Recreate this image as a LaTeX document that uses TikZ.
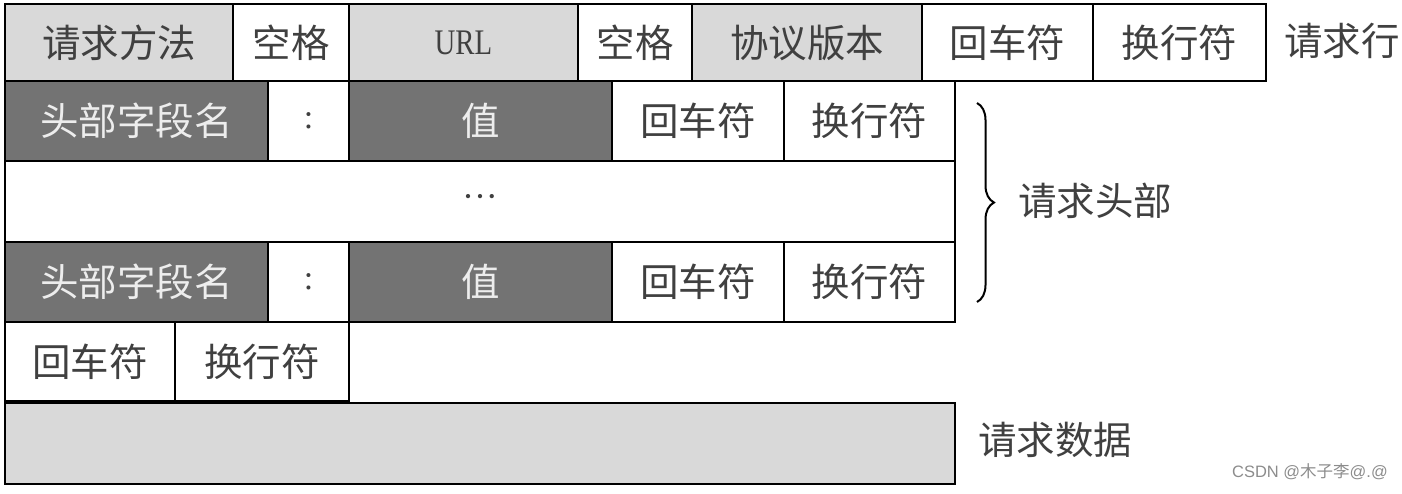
\documentclass[tikz,border=0pt]{standalone}
\usepackage{fontspec}
\newfontfamily\cjk{Noto Sans CJK SC}
\newfontfamily\lat{Liberation Serif}
\newfontfamily\wm{Liberation Sans}
\usetikzlibrary{decorations.pathreplacing}
\definecolor{lgray}{HTML}{D9D9D9}
\definecolor{dgray}{HTML}{737373}
\definecolor{txt}{HTML}{404040}
\tikzset{
  cell/.style={draw=black, line width=2.2pt, inner sep=0pt, outer sep=0pt,
    font=\cjk\fontsize{38.5}{42}\selectfont, text=txt},
  light/.style={cell, fill=lgray},
  white/.style={cell, fill=white},
  dark/.style={cell, fill=dgray, text=white!93!black},
  label/.style={font=\cjk\fontsize{38.5}{42}\selectfont, text=txt, inner sep=0pt},
}
\newcommand{\cellbox}[7]{%
  \node[#6, minimum width={#4-#2}, minimum height={#5-#3}] (#1) at ({(#2+#4)/2},{(#3+#5)/2}) {#7};}
\begin{document}
\begin{tikzpicture}[x=1pt,y=-1pt]
\useasboundingbox (0,0) rectangle (1402,493);
% row 1: request line
\cellbox{method}{5}{4}{233}{81}{light}{请求方法}
\cellbox{sp1}{233}{4}{349}{81}{white}{空格}
\cellbox{url}{349}{4}{578}{81}{light}{\lat\fontsize{36}{40}\selectfont\scalebox{0.8}[1]{URL}}
\cellbox{sp2}{578}{4}{692}{81}{white}{空格}
\cellbox{ver}{692}{4}{922}{81}{light}{协议版本}
\cellbox{cr1}{922}{4}{1093}{81}{white}{回车符}
\cellbox{lf1}{1093}{4}{1266}{81}{white}{换行符}
\node[label, anchor=west] (reqline) at (1284,41) {请求行};
% row 2: header
\cellbox{hname1}{5}{81}{268}{161}{dark}{头部字段名}
\cellbox{colon1}{268}{81}{349}{161}{white}{\lat\fontsize{34}{38}\selectfont :}
\cellbox{hval1}{349}{81}{612}{161}{dark}{值}
\cellbox{cr2}{612}{81}{784}{161}{white}{回车符}
\cellbox{lf2}{784}{81}{955}{161}{white}{换行符}
% row 3: dots
\cellbox{dots}{5}{161}{955}{242}{white}{\lat\fontsize{36}{40}\selectfont ···}
% row 4: header
\cellbox{hname2}{5}{242}{268}{322}{dark}{头部字段名}
\cellbox{colon2}{268}{242}{349}{322}{white}{\lat\fontsize{34}{38}\selectfont :}
\cellbox{hval2}{349}{242}{612}{322}{dark}{值}
\cellbox{cr3}{612}{242}{784}{322}{white}{回车符}
\cellbox{lf3}{784}{242}{955}{322}{white}{换行符}
% row 5: blank line
\cellbox{cr4}{5}{322}{175}{401}{white}{回车符}
\cellbox{lf4}{175}{322}{349}{401}{white}{换行符}
% row 6: body
\cellbox{body}{5}{403}{955}{484}{light}{}
\node[label, anchor=west] (bodylabel) at (978,440) {请求数据};
% brace
\coordinate (btop) at (977,103);
\coordinate (bbot) at (977,302);
\draw[line width=2pt, decorate, decoration={brace, amplitude=17pt}] (btop) -- (bbot);
\node[label, anchor=west] (headlabel) at (1018,201) {请求头部};
% watermark
\node[font=\wm\fontsize{16.5}{18}\selectfont, text=black!45, inner sep=0pt, anchor=east] (wmark) at (1388,472) {CSDN @{\cjk 木子李}@.@};
\end{tikzpicture}
\end{document}
